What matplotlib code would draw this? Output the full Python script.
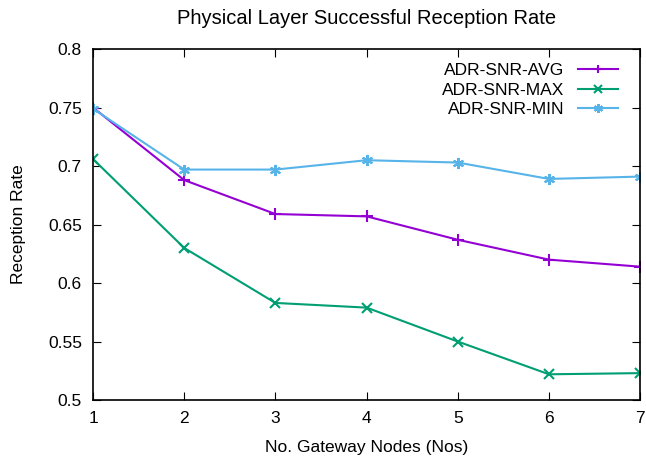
import matplotlib.pyplot as plt

plt.rcParams["font.family"] = ["Liberation Sans", "DejaVu Sans"]

nodes = [1, 2, 3, 4, 5, 6, 7]
snr_avg = [0.750, 0.688, 0.659, 0.657, 0.637, 0.620, 0.614]
snr_max = [0.706, 0.630, 0.583, 0.579, 0.550, 0.522, 0.523]
snr_min = [0.749, 0.697, 0.697, 0.705, 0.703, 0.689, 0.691]

fig = plt.figure(figsize=(6.46, 4.63), dpi=100)
ax = fig.add_axes([0.144, 0.136, 0.847, 0.758])

ax.plot(nodes, snr_avg, color="#9400D3", marker="+", markersize=8, linewidth=1.5,
        markeredgewidth=1.5, label="ADR-SNR-AVG")
ax.plot(nodes, snr_max, color="#009E73", marker="x", markersize=7, linewidth=1.5,
        markeredgewidth=1.5, label="ADR-SNR-MAX")
ax.plot(nodes, snr_min, color="#56B4E9", marker=(6, 2, 0), markersize=8, linewidth=1.5,
        markeredgewidth=1.5, label="ADR-SNR-MIN")

ax.set_xlim(1, 7)
ax.set_ylim(0.5, 0.8)
ax.set_xticks(nodes)
ax.set_yticks([0.5, 0.55, 0.6, 0.65, 0.7, 0.75, 0.8])
ax.set_yticklabels(["0.5", "0.55", "0.6", "0.65", "0.7", "0.75", "0.8"])
ax.tick_params(direction="in", top=True, right=True, length=6, labelsize=12.5, pad=8)
for s in ax.spines.values():
    s.set_linewidth(1.2)

ax.set_title("Physical Layer Successful Reception Rate", fontsize=14.5, pad=18)
ax.set_xlabel("No. Gateway Nodes (Nos)", fontsize=12.5, labelpad=10)
ax.set_ylabel("Reception Rate", fontsize=12.5, labelpad=16)

ax.legend(loc="upper right", frameon=False, markerfirst=False, fontsize=12.5,
          handlelength=2.3, labelspacing=0.25, borderaxespad=0.4,
          bbox_to_anchor=(0.985, 1.0), markerscale=0.8)

fig.savefig("out.png", dpi=100)
